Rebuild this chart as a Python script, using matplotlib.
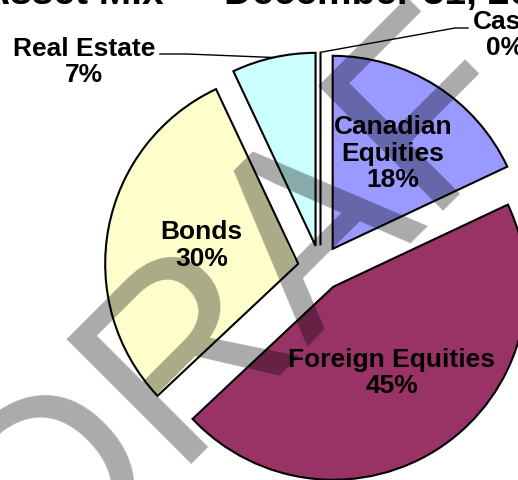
import matplotlib
matplotlib.use('Agg')
import matplotlib.pyplot as plt
import numpy as np

# ---- data ----
categories = ['Canadian Equities', 'Foreign Equities', 'Bonds', 'Real Estate', 'Cash']
label_names = ['Canadian\nEquities', 'Foreign Equities', 'Bonds', 'Real Estate', 'Cash']
values = [18, 45, 30, 7, 0]
colors = ['#9999FF', '#993366', '#FFFFCC', '#CCFFFF', '#FFFFFF']
title = 'Asset Mix \u2014 December 31, 2007'
watermark = 'DRAFT'

FONT = 'Liberation Sans'
W, H = 518, 480
fig = plt.figure(figsize=(W / 100, H / 100), dpi=100)
ax = fig.add_axes([0, 0, 1, 1])

cx, cy = 320.5, H - 268
R = 193
EXP = 22.7

wedges, _ = ax.pie(values, colors=colors, startangle=90, counterclock=False,
                   radius=R, center=(cx, cy), explode=[EXP] * len(values),
                   wedgeprops=dict(edgecolor='black', linewidth=1.5))
ax.set_xlim(0, W)
ax.set_ylim(0, H)
ax.set_aspect('equal')
ax.axis('off')

lab_font = dict(fontsize=19, fontweight='bold', family=FONT, ha='center',
                va='center', linespacing=1.15, zorder=6)

# inside labels
inside_dist = {0: 0.585, 1: 0.54, 2: 0.51}
for i, d in inside_dist.items():
    w = wedges[i]
    tm = np.deg2rad((w.theta1 + w.theta2) / 2)
    x = w.center[0] + d * w.r * np.cos(tm)
    y = w.center[1] + d * w.r * np.sin(tm)
    ax.text(x, y, f"{label_names[i]}\n{values[i]:.0f}%", **lab_font)

# outside labels with leader lines
def arc_mid(w):
    tm = np.deg2rad((w.theta1 + w.theta2) / 2)
    return (w.center[0] + w.r * np.cos(tm), w.center[1] + w.r * np.sin(tm))

# Real Estate
mx, my = arc_mid(wedges[3])
ax.text(84, H - 62, f"{label_names[3]}\n{values[3]:.0f}%", **lab_font)
ax.plot([160, 187, mx], [H - 54, H - 54, my], color='black', lw=1, zorder=4)

# Cash
mx, my = arc_mid(wedges[4])
ax.text(505, H - 35, f"{label_names[4]}\n{values[4]:.0f}%", **lab_font)
ax.plot([468, 455, mx], [H - 28, H - 28, my], color='black', lw=1, zorder=4)

# title (mostly cropped at top)
ax.text(-18, H - 4, title, ha='left', va='baseline', fontsize=28,
        fontweight='bold', family=FONT, zorder=6)

# watermark
ax.text(40, H - 594, watermark, rotation=45, rotation_mode='anchor',
        ha='left', va='baseline', fontsize=185, family=FONT,
        color='black', alpha=0.333, zorder=5)

fig.savefig('out.png', dpi=100)
